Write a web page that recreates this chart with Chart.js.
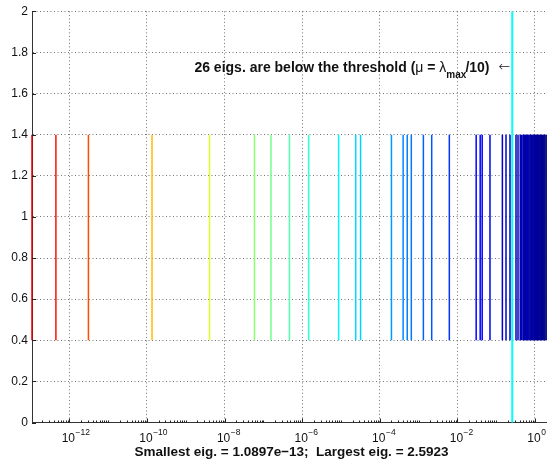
<!DOCTYPE html>
<html>
<head>
<meta charset="utf-8">
<script src="https://cdn.jsdelivr.net/npm/chart.js@4.4.0/dist/chart.umd.min.js"></script>
<style>
  html, body { margin: 0; padding: 0; background: #fff; overflow: hidden; }
  #wrap { width: 547px; height: 463px; }
</style>
</head>
<body>
<div id="wrap"><canvas id="eigChart"></canvas></div>
<script>
// eigenvalues (sorted, smallest first)
var eigs = [1.0897e-13, 4.5e-13, 3.1e-12, 1.35e-10, 4.1e-9, 5.9e-8, 1.57e-7, 4.7e-7,
  1.47e-6, 8.7e-6, 2.4e-5, 3.2e-5, 2.0e-4, 4.0e-4, 5.1e-4, 6.5e-4, 1.33e-3, 2.18e-3,
  6.2e-3, 0.0305, 0.0387, 0.0436, 0.0692, 0.1445, 0.179, 0.227,
  0.324, 0.365, 0.418, 0.447, 0.489, 0.512, 0.541, 0.566, 0.598, 0.633, 0.659, 0.694,
  0.738, 0.781, 0.812, 0.857, 0.893, 0.941, 0.987, 1.03, 1.08, 1.12, 1.17, 1.23,
  1.28, 1.35, 1.41, 1.47, 1.56, 1.63, 1.72, 1.81, 1.93, 2.05, 2.21, 2.5923];
var stemLow = 0.4, stemHigh = 1.4;     // each eig is a vertical stem between these
var threshold = 0.25923;               // lambda_max / 10
var threshLow = 0, threshHigh = 2;
var xMin = 1.0897e-13, xMax = 2.04;    // visible x range
var yTicks = [0, 0.2, 0.4, 0.6, 0.8, 1, 1.2, 1.4, 1.6, 1.8, 2];
var xTickExps = [-12, -10, -8, -6, -4, -2, 0];
var xTitle = 'Smallest eig. = 1.0897e\u221213;  Largest eig. = 2.5923';
var noteY = 1.705;

var FONT = '"Liberation Sans", Arial, Helvetica, sans-serif';

// reversed jet colormap over log(eig)
function jetRev(v) {
  var lo = Math.log10(eigs[0]), hi = Math.log10(eigs[eigs.length - 1]);
  var t = 0.1 + 0.9 * (Math.log10(v) - lo) / (hi - lo);
  var s = 1 - t;
  var c = function (a) { return Math.round(255 * Math.max(0, Math.min(1, a))); };
  return 'rgb(' + c(1.5 - Math.abs(4 * s - 3)) + ',' + c(1.5 - Math.abs(4 * s - 2)) + ',' + c(1.5 - Math.abs(4 * s - 1)) + ')';
}

var datasets = eigs.map(function (v) {
  return {
    data: [{x: v, y: stemLow}, {x: v, y: stemHigh}],
    borderColor: jetRev(v),
    borderWidth: 1.5,
    pointRadius: 0,
    fill: false,
    clip: 3
  };
});
datasets.push({
  data: [{x: threshold, y: threshLow}, {x: threshold, y: threshHigh}],
  borderColor: '#00ffff',
  borderWidth: 2,
  pointRadius: 0,
  fill: false,
  clip: 3
});

var decorations = {
  id: 'decorations',
  afterDraw: function (chart) {
    var ctx = chart.ctx, a = chart.chartArea;
    var xs = chart.scales.x, ys = chart.scales.y;
    ctx.save();
    // inward ticks
    ctx.strokeStyle = '#222';
    ctx.lineWidth = 1;
    ctx.beginPath();
    yTicks.forEach(function (v) {
      var y = Math.round(ys.getPixelForValue(v)) + 0.5;
      ctx.moveTo(a.left, y); ctx.lineTo(a.left + 4, y);
    });
    for (var n = -13; n <= 0; n++) {
      for (var k = 1; k <= 9; k++) {
        var v = k * Math.pow(10, n);
        if (v < xMin || v > xMax) continue;
        var x = Math.round(xs.getPixelForValue(v)) + 0.5;
        var len = (k === 1 && xTickExps.indexOf(n) >= 0) ? 4 : 2;
        ctx.moveTo(x, a.bottom); ctx.lineTo(x, a.bottom - len);
      }
    }
    ctx.stroke();

    // y labels
    ctx.fillStyle = '#111';
    ctx.font = '12px ' + FONT;
    ctx.textAlign = 'right';
    ctx.textBaseline = 'middle';
    yTicks.forEach(function (v) {
      ctx.fillText(String(+v.toFixed(1)), a.left - 4, ys.getPixelForValue(v));
    });

    // x labels 10^n
    ctx.textAlign = 'left';
    ctx.textBaseline = 'alphabetic';
    xTickExps.forEach(function (e) {
      var px = xs.getPixelForValue(Math.pow(10, e));
      ctx.font = '12px ' + FONT;
      var w = ctx.measureText('10').width;
      var x0 = px - w / 2 - 1;
      ctx.fillText('10', x0, a.bottom + 19.5);
      ctx.font = '8.5px ' + FONT;
      ctx.fillText(e < 0 ? '\u2212' + (-e) : String(e), x0 + w + 0.5, a.bottom + 12.5);
    });

    // x title
    ctx.font = 'bold 13.5px ' + FONT;
    ctx.textAlign = 'center';
    var cx = (a.left + xs.getPixelForValue(eigs[eigs.length - 1])) / 2;
    ctx.fillText(xTitle, cx, a.bottom + 33.5);

    // threshold note
    var parts = [
      {t: '26 eigs. are below the threshold (', f: 'bold 14px ' + FONT, dy: 0, gap: 0},
      {t: '\u03bc', f: '14px ' + FONT, dy: 0, gap: 0},
      {t: ' = ', f: 'bold 14px ' + FONT, dy: 0, gap: 0},
      {t: '\u03bb', f: '14px ' + FONT, dy: 0, gap: 0},
      {t: 'max', f: 'bold 10px ' + FONT, dy: 6, gap: -1},
      {t: '/10)', f: 'bold 14px ' + FONT, dy: 0, gap: 9},
      {t: '\u2190', f: '200 14px "DejaVu Sans", sans-serif', dy: -1, gap: 0}
    ];
    ctx.textAlign = 'left';
    var total = 0;
    parts.forEach(function (p) { ctx.font = p.f; p.w = ctx.measureText(p.t).width; total += p.w + p.gap; });
    var tx = xs.getPixelForValue(threshold) - 2 - total;
    var ty = ys.getPixelForValue(noteY);
    parts.forEach(function (p) {
      ctx.font = p.f;
      ctx.fillText(p.t, tx, ty + p.dy);
      tx += p.w + p.gap;
    });
    ctx.restore();
  }
};

new Chart(document.getElementById('eigChart'), {
  type: 'line',
  data: {datasets: datasets},
  options: {
    responsive: true,
    maintainAspectRatio: false,
    animation: false,
    layout: {padding: {top: 11.4, right: 0, bottom: 0, left: 0}},
    plugins: {legend: {display: false}, tooltip: {enabled: false}},
    scales: {
      x: {
        type: 'logarithmic',
        min: xMin,
        max: xMax,
        afterBuildTicks: function (scale) {
          scale.ticks = xTickExps.map(function (e) { return {value: Math.pow(10, e)}; });
        },
        afterFit: function (scale) { scale.height = 40.5; },
        ticks: {display: false},
        grid: {color: 'rgba(0,0,0,0.55)', lineWidth: 1, drawTicks: false},
        border: {display: true, color: '#333', width: 1, dash: [1, 2.5]}
      },
      y: {
        type: 'linear',
        min: 0,
        max: 2,
        afterBuildTicks: function (scale) {
          scale.ticks = yTicks.map(function (v) { return {value: v}; });
        },
        afterFit: function (scale) { scale.width = 32; },
        ticks: {display: false},
        grid: {color: 'rgba(0,0,0,0.55)', lineWidth: 1, drawTicks: false},
        border: {display: true, color: '#333', width: 1, dash: [1, 2.5]}
      }
    }
  },
  plugins: [decorations]
});
</script>
</body>
</html>
